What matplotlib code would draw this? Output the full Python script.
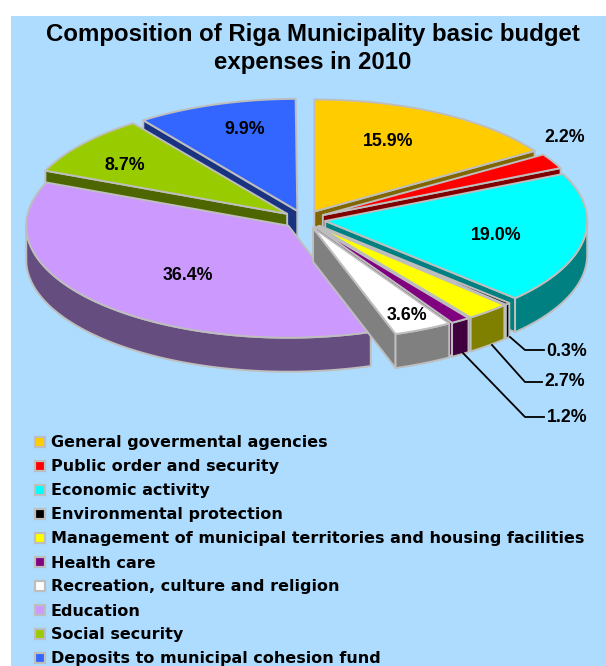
import numpy as np
import matplotlib
matplotlib.use("Agg")
import matplotlib.pyplot as plt
from matplotlib.patches import Polygon, Rectangle

plt.rcParams['font.family'] = ['Liberation Sans', 'DejaVu Sans']

# data, clockwise from 12 o'clock
categories = ["General govermental agencies", "Public order and security", "Economic activity",
              "Environmental protection", "Management of municipal territories and housing facilities",
              "Health care", "Recreation, culture and religion", "Education", "Social security",
              "Deposits to municipal cohesion fund"]
shares = [15.9, 2.2, 19.0, 0.3, 2.7, 1.2, 3.6, 36.4, 8.7, 9.9]
colors = ["#FFCC00", "#FF0000", "#00FFFF", "#000000", "#FFFF00",
          "#800080", "#FFFFFF", "#CC99FF", "#99CC00", "#3366FF"]
share_labels = ["15.9%", "2.2%", "19.0%", "0.3%", "2.7%", "1.2%", "3.6%", "36.4%", "8.7%", "9.9%"]

# layout in pixels
label_pos = [(388, 141), (565, 137), (496, 235), (567, 351), (565, 382),
             (567, 418), (407, 315), (188, 275), (125, 166), (245, 130)]
leaders = {3: [(510, 337), (525, 350), (544, 350)],
           4: [(492, 345), (525, 382), (542, 382)],
           5: [(463, 353), (525, 417), (544, 417)]}
cx, cy, rx, ry = 304, 219.5, 262, 112
explode_x, explode_y = 21.5, 9.1
depth = 34
edge = "#BEBEBE"
draw_order = [9, 0, 8, 1, 7, 2, 3, 4, 5, 6]

fig = plt.figure(figsize=(6.06, 6.66), dpi=100, facecolor="white")
ax = fig.add_axes([0, 0, 1, 1])
ax.set_xlim(0, 606)
ax.set_ylim(666, 0)
ax.axis("off")
ax.add_patch(Rectangle((11, 16), 595, 650, facecolor="#ADDCFF", edgecolor="none", zorder=0))

edges = np.radians(np.cumsum([0] + shares) * 3.6)


def shade(color):
    return tuple(c / 2 for c in matplotlib.colors.to_rgb(color))


def arc_pts(ax0, ay0, t0, t1):
    t = np.linspace(t0, t1, max(int(np.degrees(t1 - t0)) + 2, 3))
    return np.column_stack([ax0 + rx * np.sin(t), ay0 - ry * np.cos(t)])


z = 2
for i in draw_order:
    t0, t1 = edges[i], edges[i + 1]
    mid = (t0 + t1) / 2
    ax0 = cx + explode_x * np.sin(mid)
    ay0 = cy - explode_y * np.cos(mid)
    dark = shade(colors[i])
    apex = np.array([ax0, ay0])
    down = np.array([0, depth])

    # radial cut faces, only the ones turned towards the viewer
    for t, visible in ((t0, np.sin(t0) < 0), (t1, np.sin(t1) > 0)):
        if visible:
            outer = arc_pts(ax0, ay0, t, t + 1e-6)[0]
            ax.add_patch(Polygon([apex, outer, outer + down, apex + down], closed=True,
                                 facecolor=dark, edgecolor=edge, lw=1.4, joinstyle="round", zorder=z))
    # outer rim for the front half
    lo, hi = max(t0, np.pi / 2), min(t1, 3 * np.pi / 2)
    if hi > lo:
        rim = arc_pts(ax0, ay0, lo, hi)
        ax.add_patch(Polygon(np.vstack([rim, rim[::-1] + down]), closed=True,
                             facecolor=dark, edgecolor=edge, lw=1.4, joinstyle="round", zorder=z))
    # top
    top = np.vstack([apex, arc_pts(ax0, ay0, t0, t1)])
    ax.add_patch(Polygon(top, closed=True, facecolor=colors[i], edgecolor=edge, lw=1.4,
                         joinstyle="round", zorder=z))
    z += 1

for pts in leaders.values():
    ax.plot(*zip(*pts), color="black", lw=1.3, zorder=30)

for lab, (x, y) in zip(share_labels, label_pos):
    ax.text(x, y, lab, ha="center", va="center", fontsize=12.8, fontweight="bold", zorder=31)

ax.text(313, 34, "Composition of Riga Municipality basic budget", ha="center", va="center",
        fontsize=17.3, fontweight="bold")
ax.text(313, 62, "expenses in 2010", ha="center", va="center", fontsize=17.3, fontweight="bold")

# legend, DejaVu is wide enough to fill the same run as the tracked text in the original
for i, (name, col) in enumerate(zip(categories, colors)):
    y = 441.5 + 24 * i
    ax.add_patch(Rectangle((34.5, y - 5), 10, 10, facecolor=col, edgecolor=edge, lw=1.6, zorder=5))
    ax.text(51, y + 6, name, ha="left", va="baseline", fontsize=11.55, fontweight="bold",
            family=["DejaVu Sans"])

fig.savefig("out.png", dpi=100)
